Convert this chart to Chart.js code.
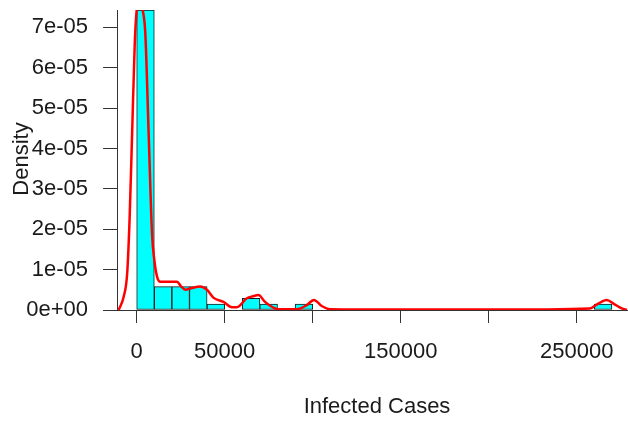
<!DOCTYPE html>
<html>
<head>
<meta charset="utf-8">
<script src="https://cdn.jsdelivr.net/npm/chart.js@4"></script>
<style>
  html, body { margin: 0; padding: 0; background: #fff; overflow: hidden; }
  canvas { display: block; }
</style>
</head>
<body>
<canvas id="c" width="628" height="421"></canvas>
<script>
// Histogram bins (left edges, width 10000) and densities
const binWidth = 10000;
const binStarts = [0, 10000, 20000, 30000, 40000, 50000, 60000, 70000, 80000, 90000,
  100000, 110000, 120000, 130000, 140000, 150000, 160000, 170000, 180000, 190000,
  200000, 210000, 220000, 230000, 240000, 250000, 260000];
const binDensity = [7.43e-5, 5.8e-6, 5.8e-6, 5.8e-6, 1.45e-6, 0, 2.9e-6, 1.45e-6, 0, 1.45e-6,
  0, 0, 0, 0, 0, 0, 0, 0, 0, 0,
  0, 0, 0, 0, 0, 0, 1.45e-6];

// Kernel density curve (x = cases, y = density)
const kdeX = [-10200, -7400, -5400, -4000, -2600, -1100, 0, 1700, 3400, 4900, 6800, 8700,
  10000, 11600, 13400, 18000, 22900, 25000, 27600, 31000, 36100, 39900, 43700, 49300,
  54100, 56900, 62600, 66000, 69200, 72900, 76800, 80500, 90900, 96600, 100700, 105100,
  109800, 150000, 200000, 257600, 262000, 267000, 271500, 275600, 278500];
const kdeY = [0, 3.3e-6, 9.1e-6, 2.3e-5, 4.37e-5, 6.6e-5, 7.43e-5, 7.7e-5, 7.43e-5, 6.85e-5, 4.37e-5, 1.9e-5,
  1.24e-5, 8.2e-6, 7.0e-6, 7.0e-6, 7.0e-6, 6.0e-6, 5.0e-6, 5.4e-6, 5.8e-6, 5.0e-6, 3.0e-6, 2.0e-6,
  0.7e-6, 0.7e-6, 2.9e-6, 3.4e-6, 3.7e-6, 2.0e-6, 0.8e-6, 0.2e-6, 0.2e-6, 1.2e-6, 2.5e-6, 1.0e-6,
  0.2e-6, 0.1e-6, 0.1e-6, 0.4e-6, 1.5e-6, 2.5e-6, 1.4e-6, 0.4e-6, 0.05e-6];

// Axis ticks
const xTickValues = [0, 50000, 100000, 150000, 200000, 250000];
const xTickLabels = ['0', '50000', '', '150000', '', '250000'];
const yTickValues = [0, 1e-5, 2e-5, 3e-5, 4e-5, 5e-5, 6e-5, 7e-5];
const yTickLabels = ['0e+00', '1e-05', '2e-05', '3e-05', '4e-05', '5e-05', '6e-05', '7e-05'];

const xTitle = 'Infected Cases';
const yTitle = 'Density';

const FONT = '"Liberation Sans", Arial, sans-serif';
const TEXT = '#1a1a1a';
const AXIS = '#333333';

const barData = binStarts.map((s, i) => ({ x: s + binWidth / 2, y: binDensity[i] }));
const kdeData = kdeX.map((x, i) => ({ x: x, y: kdeY[i] }));

const titlesPlugin = {
  id: 'titles',
  afterDraw(chart) {
    const ctx = chart.ctx;
    ctx.save();
    ctx.fillStyle = TEXT;
    ctx.font = '22px ' + FONT;
    ctx.textAlign = 'center';
    ctx.textBaseline = 'alphabetic';
    ctx.fillText(xTitle, 377, 413);
    ctx.translate(28, 159);
    ctx.rotate(-Math.PI / 2);
    ctx.fillText(yTitle, 0, 0);
    ctx.restore();
  }
};

function noPad(scale) {
  scale.paddingTop = 0;
  scale.paddingBottom = 0;
  scale.paddingLeft = 0;
  scale.paddingRight = 0;
}

new Chart(document.getElementById('c'), {
  type: 'bar',
  data: {
    datasets: [
      {
        type: 'line',
        data: kdeData,
        borderColor: '#ff0000',
        borderWidth: 2.5,
        pointRadius: 0,
        cubicInterpolationMode: 'monotone',
        clip: 0,
        order: 0
      },
      {
        type: 'bar',
        data: barData,
        backgroundColor: '#00ffff',
        borderColor: '#1a1a1a',
        borderWidth: 1,
        borderSkipped: false,
        barPercentage: 1,
        categoryPercentage: 1,
        order: 1
      }
    ]
  },
  options: {
    responsive: false,
    animation: false,
    layout: { padding: { top: 10, left: 0, right: 0, bottom: 0 } },
    plugins: { legend: { display: false }, tooltip: { enabled: false } },
    scales: {
      x: {
        type: 'linear',
        offset: false,
        min: -11190,
        max: 279150,
        afterBuildTicks(scale) { scale.ticks = xTickValues.map(v => ({ value: v })); },
        afterFit(scale) { scale.height = 111; noPad(scale); },
        ticks: {
          autoSkip: false,
          maxRotation: 0,
          padding: 16,
          color: TEXT,
          font: { family: FONT, size: 22 },
          callback: (v, i) => xTickLabels[i]
        },
        grid: { offset: false, drawOnChartArea: false, drawTicks: true, tickLength: 13, tickColor: AXIS, tickWidth: 1 },
        border: { display: true, color: AXIS, width: 1 }
      },
      y: {
        type: 'linear',
        min: 0,
        max: 7.43e-5,
        afterBuildTicks(scale) { scale.ticks = yTickValues.map(v => ({ value: v })); },
        afterFit(scale) { scale.width = 117; noPad(scale); },
        ticks: {
          autoSkip: false,
          padding: 15,
          color: TEXT,
          font: { family: FONT, size: 22 },
          callback: (v, i) => yTickLabels[i]
        },
        grid: { offset: false, drawOnChartArea: false, drawTicks: true, tickLength: 14, tickColor: AXIS, tickWidth: 1 },
        border: { display: true, color: AXIS, width: 1 }
      }
    }
  },
  plugins: [titlesPlugin]
});
</script>
</body>
</html>
